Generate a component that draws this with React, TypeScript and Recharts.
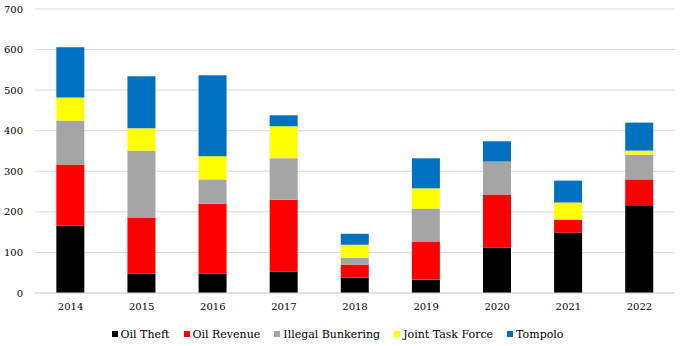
import { BarChart, Bar, XAxis, YAxis, CartesianGrid, Legend } from "recharts";

const years = ["2014", "2015", "2016", "2017", "2018", "2019", "2020", "2021", "2022"];
const oilTheft = [166, 48, 48, 53, 38, 33, 112, 149, 216];
const oilRevenue = [151, 138, 172, 177, 32, 94, 131, 32, 64];
const illegalBunkering = [108, 165, 60, 102, 17, 81, 81, 0, 61];
const jointTaskForce = [57, 55, 57, 79, 32, 50, 0, 42, 10];
const tompolo = [124, 128, 200, 27, 27, 74, 50, 54, 69];
const yTicks = [0, 100, 200, 300, 400, 500, 600, 700];

const series = [
  { key: "Oil Theft", values: oilTheft, color: "#000000" },
  { key: "Oil Revenue", values: oilRevenue, color: "#ff0000" },
  { key: "Illegal Bunkering", values: illegalBunkering, color: "#a5a5a5" },
  { key: "Joint Task Force", values: jointTaskForce, color: "#ffff00" },
  { key: "Tompolo", values: tompolo, color: "#0070c0" },
];

const data = years.map((year, i) => {
  const row: Record<string, string | number> = { year };
  series.forEach((s) => {
    row[s.key] = s.values[i];
  });
  return row;
});

const font = "'DejaVu Serif', Georgia, serif";

const CustomLegend = () => (
  <div
    style={{
      display: "flex",
      justifyContent: "center",
      gap: 14,
      fontFamily: font,
      fontSize: 11,
      color: "#000",
      height: 20,
      alignItems: "center",
      paddingTop: 2,
    }}
  >
    {series.map((s) => (
      <div key={s.key} style={{ display: "flex", alignItems: "center", gap: 3 }}>
        <div style={{ width: 6, height: 6, backgroundColor: s.color }} />
        <span>{s.key}</span>
      </div>
    ))}
  </div>
);

export default function App() {
  return (
    <div style={{ position: "absolute", left: 0, top: 0, background: "#fff" }}>
      <BarChart
        width={685}
        height={346}
        data={data}
        margin={{ top: 9, right: 10, left: 0, bottom: 4 }}
        barCategoryGap="30%"
      >
        <CartesianGrid vertical={false} stroke="#d9d9d9" />
        <XAxis
          dataKey="year"
          height={29}
          tickLine={false}
          axisLine={{ stroke: "#d9d9d9" }}
          tick={{ fill: "#000", fontSize: 10, fontFamily: font }}
          tickMargin={4}
        />
        <YAxis
          width={35}
          domain={[0, 700]}
          ticks={yTicks}
          tickLine={false}
          axisLine={false}
          tick={{ fill: "#000", fontSize: 10, fontFamily: font }}
          tickMargin={6}
        />
        <Legend verticalAlign="bottom" height={20} content={<CustomLegend />} />
        {series.map((s) => (
          <Bar
            key={s.key}
            dataKey={s.key}
            stackId="a"
            fill={s.color}
            isAnimationActive={false}
          />
        ))}
      </BarChart>
    </div>
  );
}
